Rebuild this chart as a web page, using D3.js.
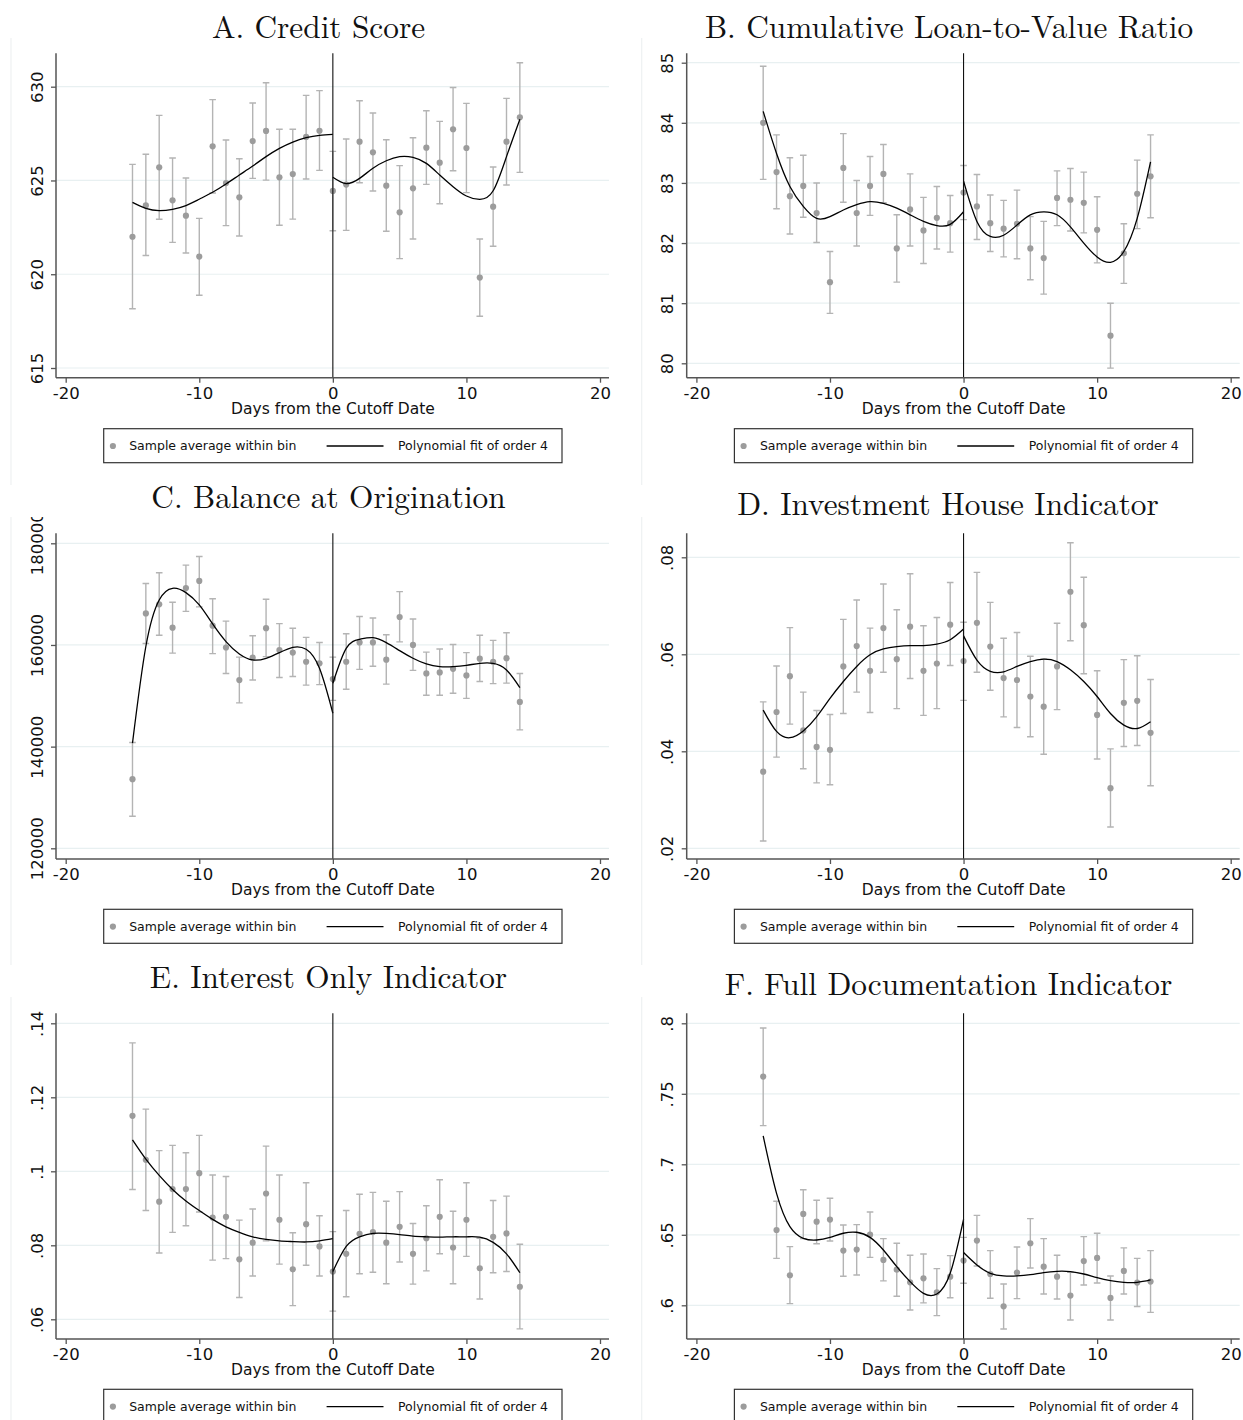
<!DOCTYPE html>
<html>
<head>
<meta charset="utf-8">
<script src="https://cdn.jsdelivr.net/npm/d3@7"></script>
<style>
  body { margin: 0; background: #fff; }
  svg { display: block; }
  .sans { font-family: "DejaVu Sans", Verdana, sans-serif; }
</style>
</head>
<body>
<svg id="chart" width="1243" height="1420"></svg>
<script>
// bins (days from cutoff) and fit evaluation points
const bins = [-15,-14,-13,-12,-11,-10,-9,-8,-7,-6,-5,-4,-3,-2,-1,0,1,2,3,4,5,6,7,8,9,10,11,12,13,14];
const fitLeftX = [-15,-14,-13,-12,-11,-10,-9,-8,-7,-6,-5,-4,-3,-2,-1,0];
const fitRightX = [0,1,2,3,4,5,6,7,8,9,10,11,12,13,14];
const xTicks = [-20, -10, 0, 10, 20];

// A. Credit score
const creditMean = [622.0,623.67,625.70,623.94,623.12,620.94,626.82,624.86,624.10,627.10,627.64,625.17,625.34,627.32,627.65,624.44,624.78,627.07,626.50,624.72,623.30,624.58,626.75,625.95,627.73,626.73,619.82,623.60,627.07,628.37];
const creditLo = [618.16,621.0,622.93,621.7,621.13,618.88,624.33,622.59,622.04,625.11,625.02,622.61,622.94,625.08,625.54,622.32,622.34,624.88,624.44,622.29,620.83,621.88,624.79,623.76,625.52,624.35,617.76,621.49,624.76,625.43];
const creditHi = [625.86,626.4,628.47,626.2,625.13,622.98,629.31,627.16,626.16,629.13,630.21,627.73,627.73,629.54,629.79,626.55,627.21,629.25,628.6,627.17,625.79,627.28,628.72,628.15,629.96,629.11,621.88,625.72,629.38,631.28];
const creditFitL = [623.83,623.51,623.39,623.46,623.66,624.0,624.37,624.81,625.29,625.77,626.27,626.71,627.05,627.28,627.41,627.46];
const creditFitR = [625.17,624.83,625.11,625.65,626.05,626.27,626.23,625.91,625.29,624.67,624.17,623.99,624.45,626.27,628.26];
const creditTicks = [615, 620, 625, 630];
const creditTickLabels = ["615", "620", "625", "630"];

// B. Cumulative loan-to-value ratio
const ltvMean = [84.0,83.18,82.78,82.95,82.50,81.35,83.25,82.50,82.95,83.15,81.91,82.56,82.21,82.42,82.33,82.84,82.61,82.33,82.24,82.32,81.91,81.75,82.75,82.72,82.67,82.22,80.46,81.83,82.82,83.11];
const ltvLo = [83.06,82.57,82.15,82.43,82.01,80.83,82.68,81.95,82.46,82.67,81.35,81.95,81.66,81.90,81.85,82.39,82.06,81.86,81.77,81.74,81.39,81.15,82.29,82.20,82.17,81.67,79.92,81.33,82.24,82.42];
const ltvHi = [84.94,83.80,83.42,83.46,83.0,81.86,83.82,83.04,83.44,83.64,82.47,83.15,82.76,82.94,82.79,83.29,83.14,82.80,82.71,82.88,82.44,82.36,83.20,83.24,83.18,82.77,81.0,82.32,83.38,83.80];
const ltvFitL = [84.19,83.49,82.94,82.61,82.41,82.44,82.55,82.64,82.69,82.66,82.58,82.47,82.36,82.29,82.31,82.52];
const ltvFitR = [83.03,82.36,82.11,82.13,82.30,82.47,82.52,82.47,82.27,82.0,81.77,81.68,81.86,82.41,83.35];
const ltvTicks = [80, 81, 82, 83, 84, 85];
const ltvTickLabels = ["80", "81", "82", "83", "84", "85"];

// C. Balance at origination
const balanceMean = [133600,166200,168000,163400,171200,172600,163800,159500,153100,157500,163300,159000,158500,156700,156400,153300,156700,160500,160500,157100,165500,160000,154400,154600,155300,154000,157300,156700,157400,148800];
const balanceLo = [126300,160300,161900,158400,166600,167500,158300,154400,148600,153100,157700,153600,153800,152100,152200,149100,151300,155200,155800,152300,160600,155000,150100,150100,150500,149500,152800,152400,152500,143300];
const balanceHi = [140800,172100,174200,168400,175700,177400,169100,164700,157600,161800,169000,164200,163300,161500,160500,157600,162200,165600,165300,162000,170500,165100,158600,159200,160100,158500,161900,160900,162400,154400];
const balanceFitL = [140700,159700,168850,171150,170300,167870,164130,160660,158230,157050,157380,158490,159540,159150,155410,146560];
const balanceFitR = [152460,159340,161110,161440,160460,158890,157380,156260,155740,155740,156000,156390,156390,155080,151610];
const balanceTicks = [120000, 140000, 160000, 180000];
const balanceTickLabels = ["120000", "140000", "160000", "180000"];

// D. Investment house indicator
const investMean = [0.0358,0.0481,0.0555,0.0443,0.0409,0.0403,0.0575,0.0617,0.0566,0.0654,0.0590,0.0657,0.0566,0.0581,0.0661,0.0586,0.0665,0.0616,0.0551,0.0547,0.0513,0.0492,0.0575,0.0729,0.0660,0.0475,0.0324,0.0500,0.0504,0.0438];
const investLo = [0.0215,0.0388,0.0456,0.0364,0.0335,0.0331,0.0478,0.0522,0.0480,0.0563,0.0488,0.0550,0.0474,0.0488,0.0577,0.0505,0.0563,0.0526,0.0471,0.0449,0.0430,0.0394,0.0486,0.0628,0.0560,0.0384,0.0244,0.0410,0.0412,0.0329];
const investHi = [0.0502,0.0576,0.0655,0.0522,0.0484,0.0476,0.0672,0.0712,0.0654,0.0745,0.0692,0.0766,0.0659,0.0676,0.0748,0.0666,0.0769,0.0707,0.0633,0.0645,0.0596,0.0590,0.0664,0.0830,0.0759,0.0566,0.0405,0.0589,0.0597,0.0548];
const investFitL = [0.0485,0.0441,0.0428,0.0442,0.0471,0.0509,0.0544,0.0575,0.0599,0.0611,0.0616,0.0618,0.0618,0.0621,0.0630,0.0652];
const investFitR = [0.0638,0.0588,0.0565,0.0564,0.0575,0.0585,0.0590,0.0585,0.0568,0.0544,0.0513,0.0478,0.0454,0.0447,0.0461];
const investTicks = [0.02, 0.04, 0.06, 0.08];
const investTickLabels = [".02", ".04", ".06", ".08"];

// E. Interest only indicator
const ioMean = [0.1150,0.1031,0.0918,0.0952,0.0952,0.0995,0.0875,0.0877,0.0762,0.0807,0.0940,0.0869,0.0735,0.0857,0.0797,0.0729,0.0777,0.0831,0.0836,0.0807,0.0850,0.0777,0.0819,0.0877,0.0794,0.0869,0.0738,0.0823,0.0832,0.0688];
const ioLo = [0.0951,0.0894,0.0779,0.0835,0.0853,0.0890,0.0760,0.0764,0.0659,0.0717,0.0812,0.0749,0.0637,0.0746,0.0717,0.0622,0.0661,0.0723,0.0727,0.0696,0.0755,0.0695,0.0731,0.0777,0.0696,0.0770,0.0655,0.0726,0.0729,0.0574];
const ioHi = [0.1347,0.1168,0.1056,0.1070,0.1050,0.1097,0.0990,0.0986,0.0868,0.0898,0.1068,0.0990,0.0834,0.0969,0.0880,0.0837,0.0894,0.0938,0.0943,0.0919,0.0945,0.0859,0.0907,0.0977,0.0892,0.0969,0.0819,0.0921,0.0933,0.0803];
const ioFitL = [0.1085,0.1033,0.0989,0.0951,0.0920,0.0894,0.0870,0.0850,0.0835,0.0823,0.0816,0.0812,0.0810,0.0809,0.0812,0.0818];
const ioFitR = [0.0729,0.0797,0.0823,0.0832,0.0832,0.0829,0.0825,0.0823,0.0822,0.0823,0.0823,0.0822,0.0808,0.0777,0.0726];
const ioTicks = [0.06, 0.08, 0.10, 0.12, 0.14];
const ioTickLabels = [".06", ".08", ".1", ".12", ".14"];

// F. Full documentation indicator
const docMean = [0.7622,0.6534,0.6213,0.6648,0.6593,0.6608,0.6388,0.6395,0.6501,0.6322,0.6253,0.6163,0.6191,0.6092,0.6203,0.6317,0.6459,0.6222,0.5993,0.6232,0.6440,0.6274,0.6203,0.6069,0.6314,0.6336,0.6052,0.6244,0.6161,0.6168];
const docLo = [0.7274,0.6333,0.6012,0.6473,0.6437,0.6456,0.6206,0.6215,0.6340,0.6173,0.6064,0.5967,0.6017,0.5927,0.6054,0.6156,0.6279,0.6050,0.5832,0.6047,0.6265,0.6080,0.6045,0.5896,0.6144,0.6158,0.5896,0.6080,0.5991,0.5950];
const docHi = [0.7967,0.6738,0.6416,0.6820,0.6745,0.6759,0.6570,0.6572,0.6662,0.6473,0.6440,0.6355,0.6364,0.6260,0.6352,0.6482,0.6638,0.6388,0.6151,0.6414,0.6615,0.6473,0.6355,0.6234,0.6487,0.6511,0.6208,0.6407,0.6333,0.6388];
const docFitL = [0.7201,0.6794,0.6558,0.6475,0.6463,0.6482,0.6511,0.6518,0.6482,0.6392,0.6274,0.6168,0.6085,0.6080,0.6227,0.6610];
const docFitR = [0.6374,0.6286,0.6227,0.6208,0.6208,0.6217,0.6232,0.6241,0.6239,0.6222,0.6196,0.6175,0.6163,0.6163,0.6180];
const docTicks = [0.60, 0.65, 0.70, 0.75, 0.80];
const docTickLabels = [".6", ".65", ".7", ".75", ".8"];

// panel layout (pixel positions kept apart from the data)
const panels = [
  {title: 'A. Credit Score', mean: creditMean, lo: creditLo, hi: creditHi, fitL: creditFitL, fitR: creditFitR,
   ticks: creditTicks, labels: creditTickLabels, col: 0, top: 53.3, bottom: 377.7, tickPx: [368, 86.7],
   legendTop: 428.7, titleX: 318.5, titleY: 38, region: [38, 485]},
  {title: 'B. Cumulative Loan-to-Value Ratio', mean: ltvMean, lo: ltvLo, hi: ltvHi, fitL: ltvFitL, fitR: ltvFitR,
   ticks: ltvTicks, labels: ltvTickLabels, col: 1, top: 53.3, bottom: 377.7, tickPx: [363.3, 62.7],
   legendTop: 428.7, titleX: 949, titleY: 38, region: [38, 485]},
  {title: 'C. Balance at Origination', mean: balanceMean, lo: balanceLo, hi: balanceHi, fitL: balanceFitL, fitR: balanceFitR,
   ticks: balanceTicks, labels: balanceTickLabels, col: 0, top: 533.3, bottom: 859, tickPx: [848.3, 543.3],
   legendTop: 909.3, titleX: 328.5, titleY: 508, region: [517, 965], clipTop: 517},
  {title: 'D. Investment House Indicator', mean: investMean, lo: investLo, hi: investHi, fitL: investFitL, fitR: investFitR,
   ticks: investTicks, labels: investTickLabels, col: 1, top: 533.3, bottom: 859, tickPx: [848.3, 557.3],
   legendTop: 909.3, titleX: 948, titleY: 515, region: [517, 965]},
  {title: 'E. Interest Only Indicator', mean: ioMean, lo: ioLo, hi: ioHi, fitL: ioFitL, fitR: ioFitR,
   ticks: ioTicks, labels: ioTickLabels, col: 0, top: 1013.3, bottom: 1339, tickPx: [1319.3, 1023.3],
   legendTop: 1389.3, titleX: 328.5, titleY: 988, region: [997, 1420]},
  {title: 'F. Full Documentation Indicator', mean: docMean, lo: docLo, hi: docHi, fitL: docFitL, fitR: docFitR,
   ticks: docTicks, labels: docTickLabels, col: 1, top: 1013.3, bottom: 1339, tickPx: [1305.3, 1023.3],
   legendTop: 1389.3, titleX: 948.5, titleY: 995, region: [997, 1420]}
];

const colShift = 630.7,
      axisColor = '#555',
      gridColor = '#e8f0f1',
      dotColor = '#9c9c9c',
      ciColor = '#b4b4b4';

const svg = d3.select('#chart');
svg.append('rect').attr('width', 1243).attr('height', 1420).attr('fill', '#fff');

panels.forEach((p, i) => {
  const dx = p.col * colShift,
        axisX = 56 + dx,
        rightX = 609 + dx;

  const x = d3.scaleLinear().domain([-20, 20]).range([65.7 + dx, 600 + dx]);
  const y = d3.scaleLinear()
    .domain([p.ticks[0], p.ticks[p.ticks.length - 1]])
    .range(p.tickPx);

  const g = svg.append('g').attr('class', 'panel');

  // faint graph region edge
  g.append('line')
    .attr('x1', 11 + dx).attr('x2', 11 + dx)
    .attr('y1', p.region[0]).attr('y2', p.region[1])
    .attr('stroke', '#eef1f2').attr('stroke-width', 1.2);

  // title
  g.append('text')
    .attr('x', p.titleX).attr('y', p.titleY)
    .attr('text-anchor', 'middle')
    .style('font-family', '"Latin Modern Roman", "CMU Serif", "Liberation Serif", serif')
    .style('font-size', '31.3px')
    .attr('fill', '#111')
    .text(p.title);

  // grid
  g.append('g').selectAll('line')
    .data(p.ticks)
    .enter().append('line')
    .attr('x1', axisX).attr('x2', rightX)
    .attr('y1', d => y(d)).attr('y2', d => y(d))
    .attr('stroke', gridColor).attr('stroke-width', 1.2);

  // confidence bars
  const ci = g.append('g').attr('stroke', ciColor).attr('stroke-width', 1.4).attr('fill', 'none');
  ci.selectAll('path')
    .data(bins)
    .enter().append('path')
    .attr('d', (d, j) => {
      const cx = x(d), y0 = y(p.lo[j]), y1 = y(p.hi[j]);
      return `M${cx},${y0}V${y1}M${cx - 3.3},${y1}H${cx + 3.3}M${cx - 3.3},${y0}H${cx + 3.3}`;
    });

  // bin averages
  g.append('g').selectAll('circle')
    .data(bins)
    .enter().append('circle')
    .attr('cx', d => x(d))
    .attr('cy', (d, j) => y(p.mean[j]))
    .attr('r', 3.1)
    .attr('fill', dotColor);

  // polynomial fits
  const line = d3.line()
    .x(d => x(d[0]))
    .y(d => y(d[1]))
    .curve(d3.curveNatural);

  g.append('path')
    .datum(fitLeftX.map((d, j) => [d, p.fitL[j]]))
    .attr('d', line)
    .attr('fill', 'none').attr('stroke', '#000').attr('stroke-width', 1.3);

  g.append('path')
    .datum(fitRightX.map((d, j) => [d, p.fitR[j]]))
    .attr('d', line)
    .attr('fill', 'none').attr('stroke', '#000').attr('stroke-width', 1.3);

  // cutoff line
  g.append('line')
    .attr('x1', x(0)).attr('x2', x(0))
    .attr('y1', p.top).attr('y2', p.bottom)
    .attr('stroke', '#111').attr('stroke-width', 1.1);

  // x axis
  const xAxis = g.append('g')
    .attr('class', 'sans')
    .attr('transform', `translate(0,${p.bottom})`)
    .call(d3.axisBottom(x).tickValues(xTicks).tickSize(5).tickPadding(4.2).tickFormat(d => String(d)));
  xAxis.select('.domain').remove();
  xAxis.selectAll('.tick line').attr('stroke', axisColor).attr('stroke-width', 1.3);
  xAxis.selectAll('.tick text').attr('fill', '#111').style('font-size', '16.5px');
  xAxis.append('line')
    .attr('x1', axisX).attr('x2', rightX)
    .attr('stroke', axisColor).attr('stroke-width', 1.5);

  g.append('text')
    .attr('class', 'sans')
    .attr('x', 333 + dx).attr('y', p.bottom + 36.3)
    .attr('text-anchor', 'middle')
    .style('font-size', '15.5px')
    .attr('fill', '#111')
    .text('Days from the Cutoff Date');

  // y axis
  const yAxis = g.append('g')
    .attr('class', 'sans')
    .attr('transform', `translate(${axisX},0)`)
    .call(d3.axisLeft(y).tickValues(p.ticks).tickSize(5).tickFormat((d, j) => p.labels[j]));
  yAxis.select('.domain').remove();
  yAxis.selectAll('.tick line').attr('stroke', axisColor).attr('stroke-width', 1.3);
  yAxis.selectAll('.tick text')
    .attr('x', null).attr('dy', null)
    .attr('text-anchor', 'middle')
    .attr('transform', 'translate(-13.3,0) rotate(-90)')
    .attr('fill', '#111')
    .style('font-size', '16.5px');
  yAxis.append('line')
    .attr('y1', p.top).attr('y2', p.bottom)
    .attr('stroke', axisColor).attr('stroke-width', 1.5);

  if (p.clipTop) {
    // the top tick label is cut by the graph region edge
    const clipId = 'clip' + i;
    svg.append('clipPath').attr('id', clipId)
      .append('rect')
      .attr('x', -200).attr('y', p.clipTop)
      .attr('width', 1600).attr('height', 1420);
    yAxis.attr('clip-path', `url(#${clipId})`);
  }

  // legend
  const lx = 103.7 + dx, ly = p.legendTop;
  const legend = g.append('g').attr('class', 'sans');
  legend.append('rect')
    .attr('x', lx).attr('y', ly)
    .attr('width', 458.3).attr('height', 34)
    .attr('fill', '#fff').attr('stroke', '#333').attr('stroke-width', 1.2);
  legend.append('circle')
    .attr('cx', lx + 9.2).attr('cy', ly + 17.3).attr('r', 3.1)
    .attr('fill', dotColor);
  legend.append('text')
    .attr('x', lx + 25.5).attr('y', ly + 21.6)
    .style('font-size', '12.5px').attr('fill', '#111')
    .text('Sample average within bin');
  legend.append('line')
    .attr('x1', lx + 222.9).attr('x2', lx + 279.8)
    .attr('y1', ly + 17.3).attr('y2', ly + 17.3)
    .attr('stroke', '#000').attr('stroke-width', 1.3);
  legend.append('text')
    .attr('x', lx + 294.3).attr('y', ly + 21.6)
    .style('font-size', '12.5px').attr('fill', '#111')
    .text('Polynomial fit of order 4');
});
</script>
</body>
</html>
